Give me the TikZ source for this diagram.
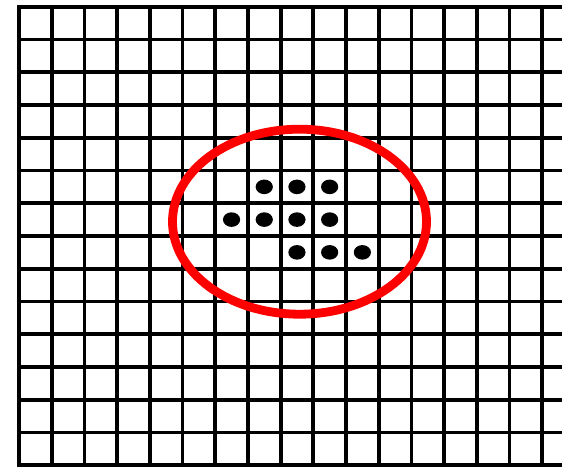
\documentclass[tikz,border=0pt]{standalone}
\begin{document}
\begin{tikzpicture}[
    x=1pt, y=-1pt,
    gridline/.style={line width=3.8pt, black},
    ring/.style={line width=8.8pt, red},
    dot/.style={fill=black}
]
    \useasboundingbox (0,0) rectangle (562,466);
    \clip (0,0) rectangle (562,466);

    % Grid
    \foreach \i in {0,...,16}
        \draw[gridline] (19+32.7*\i, 4.8) -- (19+32.7*\i, 470);
    \foreach \j in {0,...,14}
        \draw[gridline] (17.1, 6.7+32.75*\j) -- (570, 6.7+32.75*\j);

    % Dots
    \foreach \c/\r in {7/5, 8/5, 9/5, 6/6, 7/6, 8/6, 9/6, 8/7, 9/7, 10/7}
        \fill[dot] (19+32.7*\c+16.35, 6.7+32.75*\r+16.4) ellipse (8.6pt and 7.3pt);

    % Ellipse
    \draw[ring] (299.5, 221.7) ellipse (127pt and 92.5pt);
\end{tikzpicture}
\end{document}
